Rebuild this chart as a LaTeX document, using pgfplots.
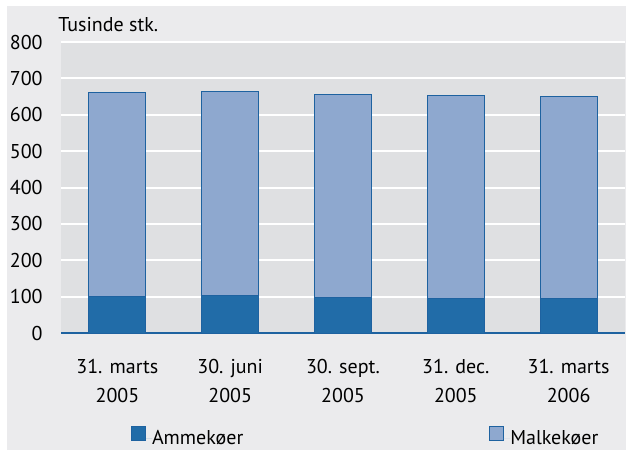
\documentclass[border=0pt]{standalone}
\usepackage{fontspec}
\setmainfont{PT Sans}
\usepackage{pgfplots}
\pgfplotsset{compat=1.18}
\definecolor{panel}{RGB}{235,235,237}
\definecolor{plotbg}{RGB}{223,224,226}
\definecolor{lightbar}{RGB}{142,168,207}
\definecolor{darkbar}{RGB}{33,108,168}
\definecolor{edge}{RGB}{30,98,160}
\begin{document}
\fontsize{10}{14.5}\selectfont
\begin{tikzpicture}[x=1pt,y=1pt]
\path[use as bounding box, fill=white] (0,0) rectangle (313,225);
\fill[panel] (3.5,0) rectangle (313,222);
\node[anchor=base west, inner sep=0pt] at (29,209) {Tusinde stk.};
\begin{axis}[
  at={(30.5pt,58.5pt)}, anchor=south west,
  scale only axis, width=282pt, height=145.5pt,
  xmin=-0.5, xmax=4.5, ymin=0, ymax=800,
  ybar stacked, bar width=28.5pt,
  ytick={0,100,...,800},
  xtick={0,...,4},
  xticklabels={{31. marts\\2005},{30. juni\\2005},{30. sept.\\2005},{31. dec.\\2005},{31. marts\\2006}},
  xticklabel style={align=center, inner sep=0pt, anchor=north, yshift=-13pt},
  yticklabel style={anchor=east, inner sep=0pt, xshift=-9pt},
  /pgf/number format/assume math mode=true,
  major tick length=0pt,
  axis background/.style={fill=plotbg},
  ymajorgrids, grid style={white, line width=1pt},
  axis x line*=bottom, axis y line*=left,
  y axis line style={draw=none},
  x axis line style={draw=edge, line width=0.6pt, -},
  legend columns=2,
  legend style={draw=none, fill=none, at={(axis description cs:0.1236,-0.395)}, anchor=south west,
    inner sep=0pt, nodes={inner sep=0pt},
    /tikz/every even column/.append style={column sep=123pt}},
  legend image code/.code={\draw[#1, line width=0.5pt] (0pt,-1pt) rectangle (7pt,6pt); \path[draw=none] (0pt,0pt) -- (10.2pt,0pt);},
]
\addplot[fill=darkbar, draw=edge, line width=0.5pt] coordinates {(0,101) (1,102.5) (2,98) (3,93.5) (4,93.5)};
\addplot[fill=lightbar, draw=edge, line width=0.5pt] coordinates {(0,559) (1,560.5) (2,558) (3,558.5) (4,556.5)};
\legend{Ammekøer, Malkekøer}
\end{axis}
\end{tikzpicture}
\end{document}
